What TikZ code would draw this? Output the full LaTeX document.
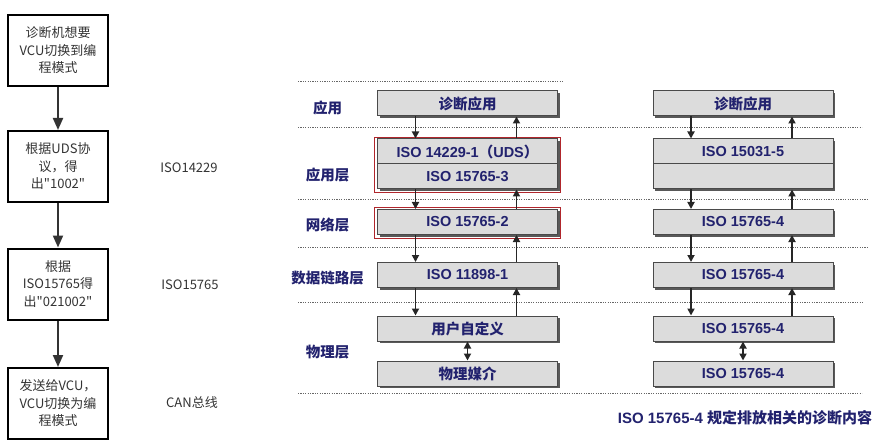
\documentclass[tikz,border=0pt]{standalone}
\usepackage{fontspec}
\setmainfont{Liberation Sans}
\newfontfamily\cjk{Noto Sans CJK SC}
\usetikzlibrary{shadows,arrows.meta}
\definecolor{navy}{HTML}{22226E}
\definecolor{boxgray}{HTML}{DCDCDC}
\definecolor{edgegray}{HTML}{4A4A4A}
\definecolor{darkred}{HTML}{B0262C}
\tikzset{
  flow/.style={draw,line width=2pt,minimum width=100pt,minimum height=71pt,
    inner sep=0pt,align=center,text=black!80,font=\cjk\fontsize{13}{17.5}\selectfont},
  flowarr/.style={line width=2pt,draw=black!80,-{Triangle[length=12pt,width=10pt]}},
  note/.style={text=black!80,font=\cjk\fontsize{13}{13}\selectfont},
  layer/.style={draw=edgegray,line width=1pt,fill=boxgray,minimum width=180pt,
    minimum height=25pt,inner sep=0pt,text=navy,font=\bfseries\fontsize{14.5}{14.5}\selectfont,
    general shadow={shadow xshift=2pt,shadow yshift=-2pt,fill=black!65}},
  lbl/.style={text=navy,font=\cjk\bfseries\fontsize{14.5}{14.5}\selectfont},
  stackarr/.style={line width=1.8pt,draw=black!85,-{Triangle[length=7pt,width=7pt]}},
  botharr/.style={line width=1.8pt,draw=black!85,{Triangle[length=7pt,width=7pt]}-{Triangle[length=7pt,width=7pt]}},
  sep/.style={draw=black!60,line width=0.7pt,dash pattern=on 1.2pt off 1.2pt},
  redbox/.style={draw=darkred,line width=1.3pt}
}
\begin{document}
\begin{tikzpicture}[x=1pt,y=-1pt]
  \useasboundingbox (0,0) rectangle (882,446);
  % flow on the left
  \node[flow] (f1) at (58,50.5) {诊断机想要\\VCU切换到编\\程模式};
  \node[flow] (f2) at (58,166.5) {根据UDS协\\议，得\\出"1002"};
  \node[flow] (f3) at (58,284) {根据\\ISO15765得\\出"021002"};
  \node[flow] (f4) at (58,403.5) {发送给VCU，\\VCU切换为编\\程模式};
  \draw[flowarr] (f1) -- (f2);
  \draw[flowarr] (f2) -- (f3);
  \draw[flowarr] (f3) -- (f4);
  \node[note] (n1) at (189,168) {ISO14229};
  \node[note] (n2) at (190,285) {ISO15765};
  \node[note] (n3) at (192,403) {CAN总线};
  % dotted separators
  \draw[sep] (298,81)--(563,81);
  \draw[sep] (298,127)--(862,127);
  \draw[sep] (298,199)--(867,199);
  \draw[sep] (298,247)--(867,247);
  \draw[sep] (298,302)--(864,302);
  \draw[sep] (298,393)--(862,393);
  % layer names
  \node[lbl] (l1) at (327.5,108) {应用};
  \node[lbl] (l2) at (327.5,175) {应用层};
  \node[lbl] (l3) at (327.5,225) {网络层};
  \node[lbl] (l4) at (327.5,278) {数据链路层};
  \node[lbl] (l5) at (327.5,352) {物理层};
  % left stack
  \node[layer] (appL) at (467.5,103.5) {\cjk 诊断应用};
  \node[layer] (udsL) at (467.5,151.5) {ISO 14229-1{\cjk（}UDS{\cjk）}};
  \node[layer] (tpL) at (467.5,176.5) {ISO 15765-3};
  \node[layer] (netL) at (467.5,222) {ISO 15765-2};
  \node[layer] (dllL) at (467.5,275) {ISO 11898-1};
  \node[layer] (usrL) at (467.5,328.5) {\cjk 用户自定义};
  \node[layer] (phyL) at (467.5,373.5) {\cjk 物理媒介};
  \draw[redbox] ([shift={(-2.5pt,1pt)}]udsL.north west) rectangle ([shift={(2.5pt,-3pt)}]tpL.south east);
  \draw[redbox] ([shift={(-2.5pt,1.5pt)}]netL.north west) rectangle ([shift={(2.5pt,-3.5pt)}]netL.south east);
  % right stack
  \node[layer] (appR) at (743,103.5) {\cjk 诊断应用};
  \node[layer] (obdR) at (743,151.5) {ISO 15031-5};
  \node[layer] (empR) at (743,176.5) {};
  \node[layer] (netR) at (743,222) {ISO 15765-4};
  \node[layer] (dllR) at (743,275) {ISO 15765-4};
  \node[layer] (usrR) at (743,328.5) {ISO 15765-4};
  \node[layer] (phyR) at (743,373.5) {ISO 15765-4};
  % arrows, left
  \draw[stackarr] ([xshift=38.5pt]appL.south west) -- ([xshift=38.5pt]udsL.north west);
  \draw[stackarr] ([xshift=139.5pt]udsL.north west) -- ([xshift=139.5pt]appL.south west);
  \draw[stackarr] ([xshift=38.5pt]tpL.south west) -- ([xshift=38.5pt]netL.north west);
  \draw[stackarr] ([xshift=139.5pt]netL.north west) -- ([xshift=139.5pt]tpL.south west);
  \draw[stackarr] ([xshift=38.5pt]netL.south west) -- ([xshift=38.5pt]dllL.north west);
  \draw[stackarr] ([xshift=139.5pt]dllL.north west) -- ([xshift=139.5pt]netL.south west);
  \draw[stackarr] ([xshift=38.5pt]dllL.south west) -- ([xshift=38.5pt]usrL.north west);
  \draw[stackarr] ([xshift=139.5pt]usrL.north west) -- ([xshift=139.5pt]dllL.south west);
  \draw[botharr] (usrL) -- (phyL);
  % arrows, right
  \draw[stackarr] ([xshift=38.5pt]appR.south west) -- ([xshift=38.5pt]obdR.north west);
  \draw[stackarr] ([xshift=139.5pt]obdR.north west) -- ([xshift=139.5pt]appR.south west);
  \draw[stackarr] ([xshift=38.5pt]empR.south west) -- ([xshift=38.5pt]netR.north west);
  \draw[stackarr] ([xshift=139.5pt]netR.north west) -- ([xshift=139.5pt]empR.south west);
  \draw[stackarr] ([xshift=38.5pt]netR.south west) -- ([xshift=38.5pt]dllR.north west);
  \draw[stackarr] ([xshift=139.5pt]dllR.north west) -- ([xshift=139.5pt]netR.south west);
  \draw[stackarr] ([xshift=38.5pt]dllR.south west) -- ([xshift=38.5pt]usrR.north west);
  \draw[stackarr] ([xshift=139.5pt]usrR.north west) -- ([xshift=139.5pt]dllR.south west);
  \draw[botharr] (usrR) -- (phyR);
  \node[text=navy,font=\bfseries\fontsize{15}{15}\selectfont] (cap) at (745,418) {ISO 15765-4 {\cjk 规定排放相关的诊断内容}};
\end{tikzpicture}
\end{document}
